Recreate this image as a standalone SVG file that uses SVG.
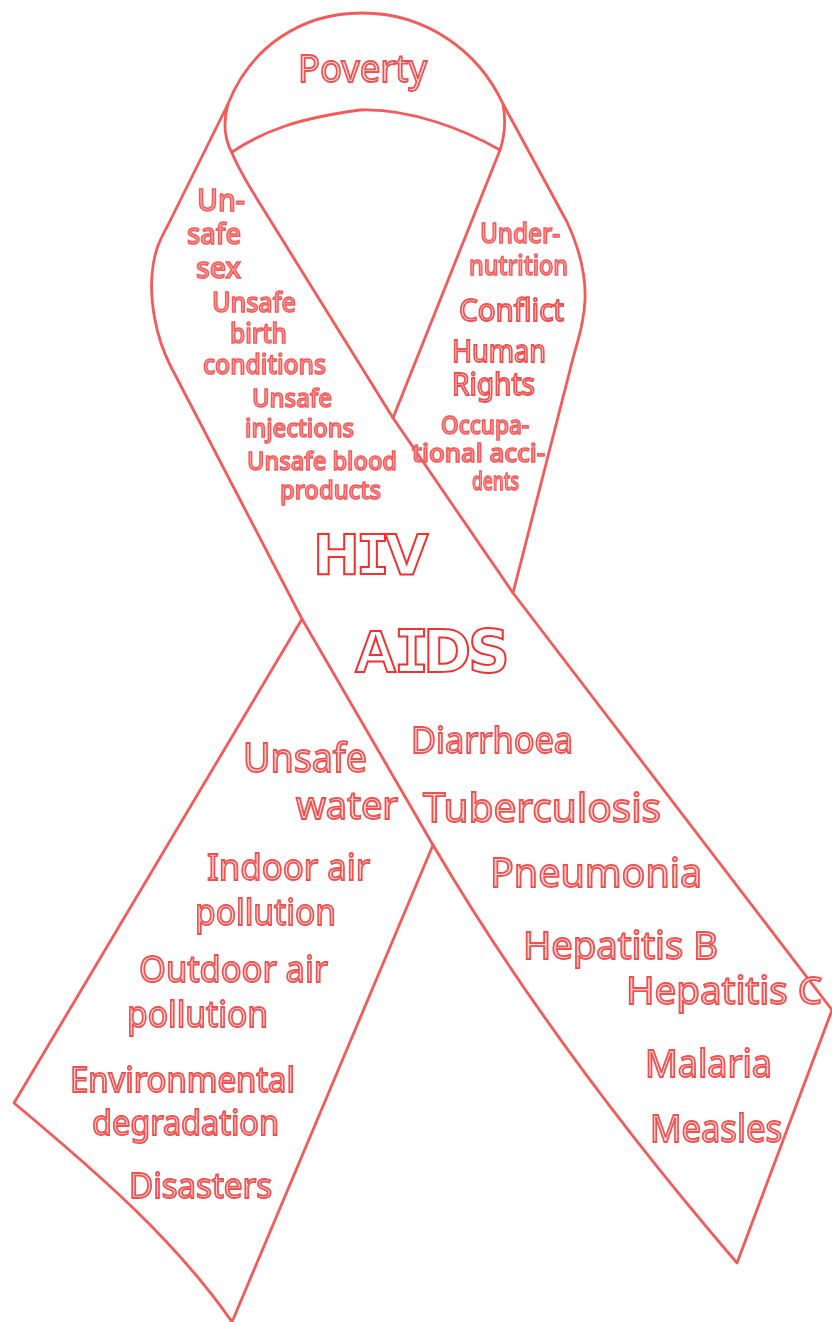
<svg xmlns="http://www.w3.org/2000/svg" width="832" height="1322" viewBox="0 0 832 1322">
<defs><filter id="soft" x="-5%" y="-5%" width="110%" height="110%"><feGaussianBlur stdDeviation="0.45"/></filter></defs>
<style>
.r{fill:none;stroke:#f45a5a;stroke-width:2.8;stroke-linejoin:round;stroke-linecap:round}
text{font-family:"Noto Sans","Open Sans",sans-serif;fill:#ffd8d8;stroke:#f24f4f;stroke-width:1.8}
.s{fill:#ff9c9c;stroke:#f45a5a;stroke-width:1.5;font-weight:500}
.b{font-family:"DejaVu Sans",sans-serif;font-weight:700;fill:#fff;stroke:#f03030;stroke-width:2}
.m{font-family:"DejaVu Sans Mono",monospace}
.l{font-family:"Liberation Sans",sans-serif}
</style>
<rect width="832" height="1322" fill="#fff"/>
<g id="connectors" filter="url(#soft)">
<path class="r" d="M228 104C250 48 300 13 362 13C425 13 478 50 503 104L567 222C580 250 586 275 585 300C584 325 576 345 570 370L513 593"/>
<path class="r" d="M228 104C222 125 225 140 232 153C240 172 250 188 262 207L393 418L513 593L832 1010L737 1263C640 1150 530 1010 433 845L302 619L170 365C155 335 150 300 152 275C154 250 160 240 168 225Z"/>
<path class="r" d="M232 152C265 130 300 118 360 110C410 108 465 130 500 150"/>
<path class="r" d="M503 104C506 120 505 135 500 150L393 418"/>
<path class="r" d="M302 619L14 1103C100 1175 175 1240 232 1322L433 845"/>
</g>
<g id="labels" filter="url(#soft)">
<g id="poverty"><text x="298" y="82" font-size="39" textLength="129" lengthAdjust="spacingAndGlyphs">Poverty</text></g>
<g id="left-top">
<text class="s" x="197" y="211" font-size="31" textLength="48" lengthAdjust="spacingAndGlyphs">Un-</text>
<text class="s" x="187" y="244" font-size="29" textLength="54" lengthAdjust="spacingAndGlyphs">safe</text>
<text class="s" x="196" y="278" font-size="29" textLength="45" lengthAdjust="spacingAndGlyphs">sex</text>
<text class="s" x="212" y="312" font-size="27" textLength="84" lengthAdjust="spacingAndGlyphs">Unsafe</text>
<text class="s" x="230" y="343" font-size="27" textLength="57" lengthAdjust="spacingAndGlyphs">birth</text>
<text class="s" x="203" y="374" font-size="27" textLength="123" lengthAdjust="spacingAndGlyphs">conditions</text>
<text class="s" x="252" y="407" font-size="26" textLength="80" lengthAdjust="spacingAndGlyphs">Unsafe</text>
<text class="s" x="245" y="437" font-size="26" textLength="109" lengthAdjust="spacingAndGlyphs">injections</text>
<text class="s" x="247" y="470" font-size="26" textLength="150" lengthAdjust="spacingAndGlyphs">Unsafe blood</text>
<text class="s" x="280" y="499" font-size="26" textLength="101" lengthAdjust="spacingAndGlyphs">products</text>
</g>
<g id="right-top">
<text class="s" x="480" y="243" font-size="27" textLength="80" lengthAdjust="spacingAndGlyphs">Under-</text>
<text class="s" x="469" y="275" font-size="27" textLength="99" lengthAdjust="spacingAndGlyphs">nutrition</text>
<text x="459" y="321" font-size="31" textLength="105" lengthAdjust="spacingAndGlyphs">Conflict</text>
<text x="452" y="362" font-size="31" textLength="94" lengthAdjust="spacingAndGlyphs">Human</text>
<text x="452" y="395" font-size="31" textLength="83" lengthAdjust="spacingAndGlyphs">Rights</text>
<text class="s" x="441" y="434" font-size="25" textLength="88" lengthAdjust="spacingAndGlyphs">Occupa-</text>
<text class="s" x="412" y="462" font-size="25" textLength="133" lengthAdjust="spacingAndGlyphs">tional acci-</text>
<text class="s" x="472" y="490" font-size="25" textLength="47" lengthAdjust="spacingAndGlyphs">dents</text>
</g>
<g id="hiv"><text class="b" x="313 356 385" y="574" font-size="56">H<tspan class="m">I</tspan>V</text></g>
<g id="aids"><text class="b" y="672" font-size="58" x="354 394 423 468"><tspan class="l" font-size="60">A</tspan><tspan class="m">I</tspan>DS</text></g>
<g id="left-bottom">
<text x="243" y="772" font-size="40" textLength="124" lengthAdjust="spacingAndGlyphs">Unsafe</text>
<text x="296" y="819" font-size="38" textLength="102" lengthAdjust="spacingAndGlyphs">water</text>
<text x="207" y="880" font-size="37" textLength="163" lengthAdjust="spacingAndGlyphs">Indoor air</text>
<text x="195" y="925" font-size="37" textLength="141" lengthAdjust="spacingAndGlyphs">pollution</text>
<text x="139" y="982" font-size="37" textLength="189" lengthAdjust="spacingAndGlyphs">Outdoor air</text>
<text x="127" y="1027" font-size="37" textLength="141" lengthAdjust="spacingAndGlyphs">pollution</text>
<text x="70" y="1092" font-size="34" textLength="225" lengthAdjust="spacingAndGlyphs">Environmental</text>
<text x="92" y="1135" font-size="34" textLength="187" lengthAdjust="spacingAndGlyphs">degradation</text>
<text x="129" y="1198" font-size="34" textLength="143" lengthAdjust="spacingAndGlyphs">Disasters</text>
</g>
<g id="right-bottom">
<text x="411" y="753" font-size="37" textLength="162" lengthAdjust="spacingAndGlyphs">Diarrhoea</text>
<text x="423" y="822" font-size="40" textLength="238" lengthAdjust="spacingAndGlyphs">Tuberculosis</text>
<text x="490" y="887" font-size="40" textLength="212" lengthAdjust="spacingAndGlyphs">Pneumonia</text>
<text x="523" y="959" font-size="38" textLength="195" lengthAdjust="spacingAndGlyphs">Hepatitis B</text>
<text x="626" y="1004" font-size="38" textLength="196" lengthAdjust="spacingAndGlyphs">Hepatitis C</text>
<text x="645" y="1077" font-size="38" textLength="127" lengthAdjust="spacingAndGlyphs">Malaria</text>
<text x="650" y="1142" font-size="38" textLength="132" lengthAdjust="spacingAndGlyphs">Measles</text>
</g>
</g>
</svg>
